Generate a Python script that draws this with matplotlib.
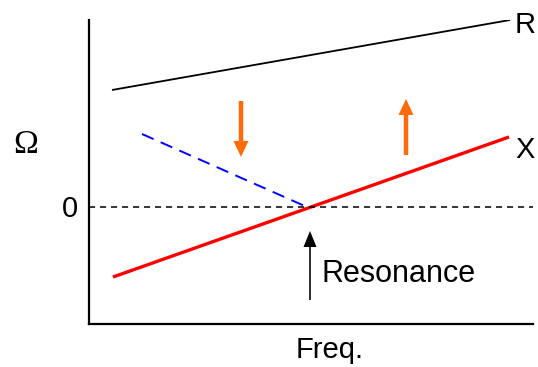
import matplotlib.pyplot as plt

# coordonnées (unités arbitraires ~ pixels, 0 = résonance)
freq_R = [23, 421]
omega_R = [117, 187]

freq_X = [24, 420]
omega_X = [-70, 70]

freq_bleu = [53, 218]
omega_bleu = [73, 0]

# flèches : (x, y_debut, y_fin)
fleche_bas = (152, 106, 50)
fleche_haut = (317, 52, 108)
fleche_res = (221, -93, -24)

orange = '#FF6A0D'
police = 'Liberation Sans'

fig = plt.figure(figsize=(5.38, 3.67), dpi=100)
ax = fig.add_axes([89/538, 43/367, 444/538, 304/367])
ax.set_xlim(0, 444)
ax.set_ylim(-117, 187)

ax.plot(freq_R, omega_R, color='black', lw=1.3, solid_capstyle='butt')
ax.plot(freq_X, omega_X, color='#FF0000', lw=2.4, solid_capstyle='butt')
ax.plot(freq_bleu, omega_bleu, color='#0000FF', lw=1.4, dashes=(6.5, 4))
ax.axhline(0, color='black', lw=1.1, dashes=(4, 3.2))

for x, y0, y1 in [fleche_bas, fleche_haut]:
    ax.arrow(x, y0, 0, y1 - y0, width=4.5, head_width=15, head_length=16,
             length_includes_head=True, color=orange, lw=0)
x, y0, y1 = fleche_res
ax.arrow(x, y0, 0, y1 - y0, width=1.6, head_width=13, head_length=16,
         length_includes_head=True, color='black', lw=0)

# textes
ax.text(426, 174, 'R', fontsize=21, family=police, va='baseline', ha='left', clip_on=False)
ax.text(426, 49, 'X', fontsize=21, family=police, va='baseline', ha='left', clip_on=False)
ax.text(232, -75, 'Resonance', fontsize=22, family=police, va='baseline', ha='left')
ax.text(241, -151, 'Freq.', fontsize=21, family=police, va='baseline', ha='center', clip_on=False)
ax.text(-19.5, -10, '0', fontsize=21, family=police, va='baseline', ha='center', clip_on=False)
ax.text(-63.5, 54, 'Ω', fontsize=24, family='Liberation Serif', va='baseline', ha='center', clip_on=False)

ax.spines['top'].set_visible(False)
ax.spines['right'].set_visible(False)
ax.spines['left'].set_linewidth(1.6)
ax.spines['bottom'].set_linewidth(1.6)
ax.set_xticks([])
ax.set_yticks([])

fig.savefig('out.png', dpi=100)
